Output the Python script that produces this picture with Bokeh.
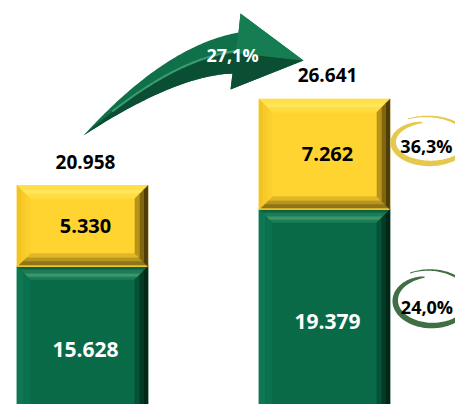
import numpy as np
from bokeh.plotting import figure
from bokeh.models import Range1d
from bokeh.core.properties import value
from bokeh.embed import file_html
from bokeh.resources import INLINE

# ---------------- data ----------------
categories = ["Ano anterior", "Ano atual"]
green_values = [15628, 19379]
yellow_values = [5330, 7262]
totals = [g + y for g, y in zip(green_values, yellow_values)]
growth_total = "27,1%"
growth_yellow = "36,3%"
growth_green = "24,0%"
value_axis_min = 4700  # the original value axis did not start at zero

def br_num(v):
    return f"{v:,}".replace(",", ".")

# ---------------- geometry ----------------
W, H = 455, 404
X0, X1 = -0.3388, 1.5413
Y0, Y1 = 6553, 33132
xs = list(range(len(categories)))
BAR_W = 0.541

def fx(x):
    return (x - X0) / (X1 - X0) * W

def fy(y):
    return (Y1 - y) / (Y1 - Y0) * H

def x_from(px):
    return X0 + px / W * (X1 - X0)

def y_from(py):
    return Y1 - py / H * (Y1 - Y0)

def dxp(px):
    return px * (X1 - X0) / W

def dyp(px):
    return px * (Y1 - Y0) / H

p = figure(width=W, height=H, x_range=Range1d(X0, X1), y_range=Range1d(Y0, Y1),
           output_backend="svg", toolbar_location=None, min_border=0,
           background_fill_color="white", border_fill_color="white")
p.axis.visible = False
p.grid.visible = False
p.outline_line_color = None

FONT = value("Open Sans")

# ---------------- bevelled stacked bars ----------------
bx, by = dxp(13), dyp(13)

def bands(colors, widths=None):
    n = len(colors)
    if widths is None:
        widths = [1.0 / n] * n
    edges = np.concatenate([[0], np.cumsum(widths)])
    edges = edges / edges[-1]
    return [(edges[k], edges[k + 1], colors[k]) for k in range(n)]

def bevel_bar(c, b, t, style):
    x0, x1 = c - BAR_W / 2, c + BAR_W / 2
    PX, PY, COL = [], [], []
    PX.append([x0, x1, x1, x0]); PY.append([b, b, t, t]); COL.append(style["main"])
    for f0, f1, col in bands(*style["top"]):
        PX.append([x0 + f0 * bx, x1 - f0 * bx, x1 - f1 * bx, x0 + f1 * bx])
        PY.append([t - f0 * by, t - f0 * by, t - f1 * by, t - f1 * by]); COL.append(col)
    for f0, f1, col in bands(*style["bottom"]):
        PX.append([x0 + f0 * bx, x1 - f0 * bx, x1 - f1 * bx, x0 + f1 * bx])
        PY.append([b + f0 * by, b + f0 * by, b + f1 * by, b + f1 * by]); COL.append(col)
    for f0, f1, col in bands(*style["left"]):
        PX.append([x0 + f0 * bx, x0 + f0 * bx, x0 + f1 * bx, x0 + f1 * bx])
        PY.append([b + f0 * by, t - f0 * by, t - f1 * by, b + f1 * by]); COL.append(col)
    for f0, f1, col in bands(*style["right"]):
        PX.append([x1 - f0 * bx, x1 - f0 * bx, x1 - f1 * bx, x1 - f1 * bx])
        PY.append([b + f0 * by, t - f0 * by, t - f1 * by, b + f1 * by]); COL.append(col)
    p.patches(PX, PY, fill_color=COL, line_color=COL, line_width=0.5)

GREEN = dict(
    main="#086A47",
    top=(["#0A6142", "#1D7B55", "#3A966D", "#1E7D56"], [0.25, 0.3, 0.25, 0.2]),
    bottom=(["#04402A", "#065335"],),
    left=(["#0D7853", "#0B7150"],),
    right=(["#022818", "#033A24", "#05513A"],),
)
YELLOW = dict(
    main="#FFD430",
    top=(["#FFE04C", "#FFE659", "#FFDC42"],),
    bottom=(["#F4C42C", "#8F7418", "#B8951E", "#E0B728"], [0.12, 0.3, 0.3, 0.28]),
    left=(["#F2C324", "#F7CA2A", "#FBD02E"],),
    right=(["#4E3D08", "#806511", "#B89319"],),
)

for i, c in enumerate(xs):
    bevel_bar(c, 0, green_values[i], GREEN)
    bevel_bar(c, green_values[i], totals[i], YELLOW)

# ---------------- bar labels ----------------
lab_x = [c for c in xs]
p.text(x=lab_x, y=[(value_axis_min + g) / 2 for g in green_values],
       text=[br_num(v) for v in green_values], x_offset=3,
       text_font=FONT, text_font_style="bold", text_font_size="21px",
       text_align="center", text_baseline="middle", text_color="white")
p.text(x=lab_x, y=[g + y / 2 for g, y in zip(green_values, yellow_values)],
       text=[br_num(v) for v in yellow_values], x_offset=3,
       text_font=FONT, text_font_style="bold", text_font_size="20px",
       text_align="center", text_baseline="middle", text_color="black")
p.text(x=lab_x, y=[t + dyp(24) for t in totals],
       text=[br_num(v) for v in totals], x_offset=3,
       text_font=FONT, text_font_style="bold", text_font_size="19px",
       text_align="center", text_baseline="middle", text_color="black")

# ---------------- curved growth arrow ----------------
ax, ay = fx(xs[0]) + 1, fy(totals[0]) - 50

def qbez(p0, c, p2, t):
    t = t[:, None]
    return (1 - t) ** 2 * np.array(p0) + 2 * t * (1 - t) * np.array(c) + t ** 2 * np.array(p2)

tt = np.linspace(0, 1, 60)
U = qbez((0, 0), (82, -90), (155, -103), tt)
L = qbez((0, 0), (92, -60), (149, -62), tt)
Q = (U + L) / 2
head_top, tip, head_bot = (157, -122), (220, -75), (147, -46)

def to_data(pts):
    return [x_from(ax + px) for px, _ in pts], [y_from(ay + py) for _, py in pts]

full = list(map(tuple, U)) + [head_top, tip, head_bot] + list(map(tuple, L[::-1]))
fxs, fys = to_data(full)
p.patch(fxs, fys, fill_color="#0F7049", line_color=None)

lower = list(map(tuple, Q)) + [tip, head_bot] + list(map(tuple, L[::-1]))
lxs, lys = to_data(lower)
p.patch(lxs, lys, fill_color="#0A4E33", line_color=None)

upper_head = [tuple(U[-1]), head_top, tip, tuple(Q[-1])]
uxs, uys = to_data(upper_head)
p.patch(uxs, uys, fill_color="#167D53", line_color=None)

HL = U + 0.45 * (L - U)
hl = HL[10:]
hxs, hys = to_data(list(map(tuple, hl)))
p.line(hxs, hys, line_color="#49A57C", line_width=2, line_alpha=0.8)

gx, gy = to_data([(149, -81)])
p.text(x=gx, y=gy, text=[growth_total], text_font=FONT, text_font_style="bold",
       text_font_size="18px", text_align="center", text_baseline="middle",
       text_color="white")

# ---------------- swoosh rings with growth per segment ----------------
def ring(cx, cy, rx, ry, color):
    th0, th1 = np.radians(100), np.radians(478)
    th = np.linspace(th0, th1, 160)
    t = (th - th0) / (th1 - th0)
    s = 1 + 0.3 * (th - th0) / (2 * np.pi)
    w = 0.8 + 5.0 * np.sin(np.pi * t ** 0.625)
    ox = cx + (rx * s + w / 2) * np.cos(th)
    oy = cy - (ry * s + w / 2) * np.sin(th)
    ix = cx + (rx * s - w / 2) * np.cos(th)
    iy = cy - (ry * s - w / 2) * np.sin(th)
    X = np.concatenate([ox, ix[::-1]])
    Y = np.concatenate([oy, iy[::-1]])
    p.patch([x_from(v) for v in X], [y_from(v) for v in Y],
            fill_color=color, line_color=None)

edge = fx(xs[1]) + BAR_W / 2 * W / (X1 - X0)
y_lab = fy(green_values[1] + yellow_values[1] / 2)
g_lab = fy((value_axis_min + green_values[1]) / 2)

ring(edge + 38.5, y_lab - 13, 33, 19.3, "#E6C84E")
ring(edge + 40.5, g_lab - 21.6, 33, 22.8, "#3F6F43")

p.text(x=[x_from(edge + 36.5), x_from(edge + 37)],
       y=[y_from(y_lab - 8), y_from(g_lab - 14.6)],
       text=[growth_yellow, growth_green], text_font=FONT, text_font_style="bold",
       text_font_size="18px", text_align="center", text_baseline="middle",
       text_color="black")

open("out.html", "w").write(file_html(p, INLINE))
